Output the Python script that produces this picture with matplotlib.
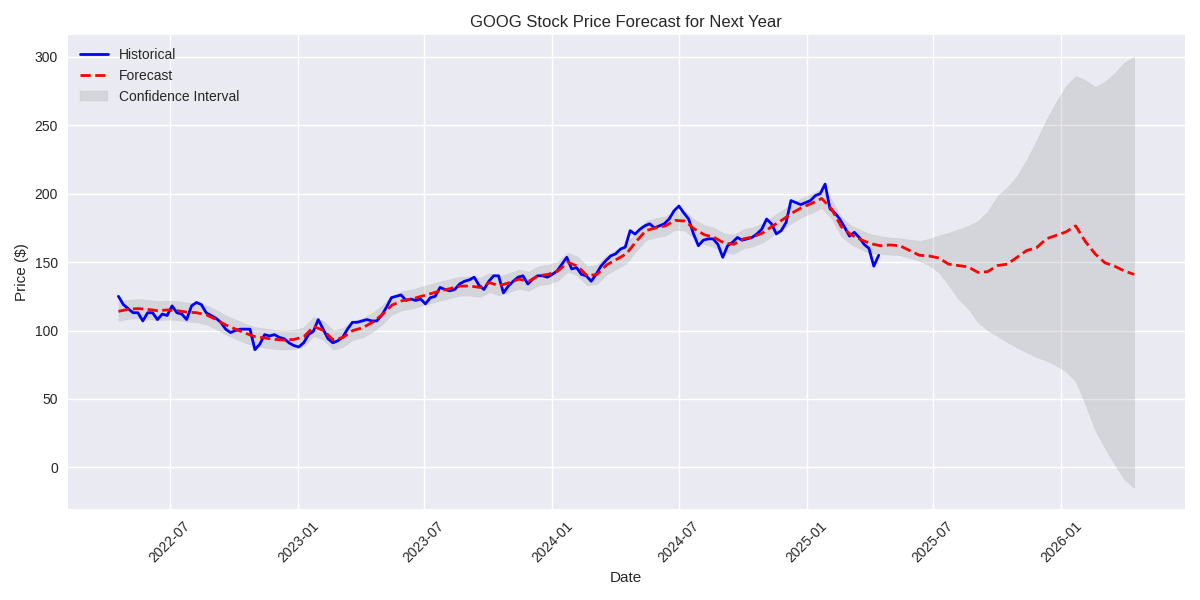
import matplotlib
matplotlib.use("Agg")
import matplotlib.pyplot as plt
import pandas as pd

# ------
# DATA
# ------
# weekly closes
hist_prices = [
    125, 119, 116, 113, 113, 107, 113, 113, 108, 112,
    111, 118, 113, 112, 108, 118, 120.5, 119, 113, 111,
    109, 106, 101, 98.5, 100, 101, 101, 101, 86, 90,
    97, 96, 97, 95, 94, 91, 89, 88, 91, 97,
    99.5, 108, 101, 94, 91, 92.5, 95, 101, 106, 106,
    107, 108, 107, 107, 111, 117, 124, 125, 126, 122,
    123, 122, 123, 119.5, 124, 125, 131.5, 130, 129, 130,
    134, 136, 137, 139, 133, 130, 136, 140, 140, 127.5,
    132.5, 136, 139, 140, 134, 137.5, 140, 140, 139, 141,
    143.5, 148.5, 153.5, 145, 146, 141, 140, 136, 141, 147,
    151, 154.5, 156, 159.5, 161, 173, 170.5, 174, 176.5, 178,
    175, 176.5, 178, 181.5, 187.5, 191, 186, 181.5, 170.6, 162,
    166, 167, 167, 163, 153.5, 162, 164.5, 168, 166, 167,
    168, 170.6, 174, 181.5, 178, 170.6, 173, 179, 195, 193.5,
    192, 193.5, 195, 198.6, 200, 207, 189, 186, 181.5, 175.5,
    169, 171.8, 168, 163, 160, 147, 155,
]

# two-weekly forecast and interval bounds
forecast = [
    114, 115.5, 116, 115.5, 114.5, 115, 114.5, 113.5, 113, 111.5,
    108, 104, 101, 98, 95.5, 94.5, 93.5, 93, 93.5, 95.5,
    103, 100, 93, 95, 100, 102, 106, 111.5, 118.5, 121.7,
    123, 125, 127, 129, 130.7, 132.5, 132.5, 131.5, 135, 132.7,
    135, 137.5, 136, 140, 141, 143.5, 150, 147, 140, 141,
    148, 152, 156, 165, 173, 175, 176.5, 180.5, 180, 174,
    170, 168, 164, 163, 167, 168.5, 171.5, 176.5, 181, 186,
    190, 193, 196.5, 189, 176, 170, 166.5, 163.5, 162, 162.5,
    162, 158.5, 155, 154.5, 153, 148.5, 147.5, 146.5, 142.5, 143,
    147.5, 148.5, 153.5, 158.5, 160.5, 167, 169.5, 172, 176.5, 165,
    156, 149.5, 147, 143.5, 141,
]

lower = [
    107, 108.5, 109, 108.5, 107.5, 108, 107.5, 106.5, 106, 104.5,
    101, 97, 94, 91, 88.5, 87.5, 86.5, 86, 86.5, 88.5,
    96, 93, 86, 88, 93, 95, 99, 104.5, 111.5, 114.7,
    116, 118, 120, 122, 123.7, 125.5, 125.5, 124.5, 128, 125.7,
    128, 130.5, 129, 133, 134, 136.5, 143, 140, 133, 134,
    141, 145, 149, 158, 166, 168, 169.5, 173.5, 173, 167,
    163, 161, 157, 156, 160, 161.5, 164.5, 169.5, 174, 179,
    183, 186, 189.5, 182, 169, 163, 159.5, 156.5, 156, 155.5,
    155, 153, 151, 147.5, 142.5, 133, 123, 116, 106, 100,
    96, 91.5, 87.5, 84, 80.5, 78, 74.5, 70, 63, 46,
    27, 14, 2, -9, -15,
]

upper = [
    121, 122.5, 123, 122.5, 121.5, 122, 121.5, 120.5, 120, 118.5,
    115, 111, 108, 105, 102.5, 101.5, 100.5, 100, 100.5, 102.5,
    110, 107, 100, 102, 107, 109, 113, 118.5, 125.5, 128.7,
    130, 132, 134, 136, 137.7, 139.5, 139.5, 138.5, 142, 139.7,
    142, 144.5, 143, 147, 148, 150.5, 157, 154, 147, 148,
    155, 159, 163, 172, 180, 182, 183.5, 187.5, 187, 181,
    177, 175, 171, 170, 174, 175.5, 178.5, 183.5, 188, 193,
    197, 200, 203.5, 196, 183, 177, 173.5, 170.5, 169, 168,
    167.5, 166.5, 165.5, 167, 169.5, 171.5, 174, 176.5, 180, 187,
    198.5, 204.5, 213, 225, 239, 254, 267, 278.5, 286, 283,
    278, 282, 288, 296, 300,
]

hist_dates = pd.date_range("2022-04-18", "2025-04-14", periods=len(hist_prices))
fc_dates = pd.date_range("2022-04-18", "2026-04-16", periods=len(forecast))


# ------
# CHART
# ------
plt.style.use("seaborn-v0_8")

fig, ax = plt.subplots(figsize=(12, 6), dpi=100)

ax.plot(hist_dates, hist_prices, color="blue", linewidth=2, label="Historical")
ax.plot(fc_dates, forecast, color="red", linestyle="--", linewidth=2, label="Forecast")
ax.fill_between(fc_dates, lower, upper, color="gray", alpha=0.2, label="Confidence Interval")

ax.set_title("GOOG Stock Price Forecast for Next Year")
ax.set_xlabel("Date")
ax.set_ylabel("Price ($)")
ax.legend(loc="upper left")
plt.xticks(rotation=45)

plt.tight_layout()
plt.savefig("out.png")
plt.close()
